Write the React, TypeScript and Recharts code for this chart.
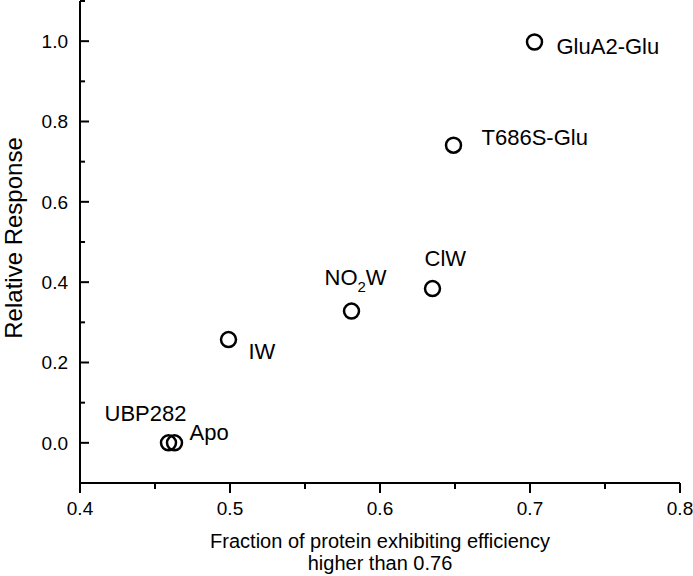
import { Scatter, ScatterChart, XAxis, YAxis } from "recharts";

const names = ["GluA2-Glu", "T686S-Glu", "ClW", "NO2W", "IW", "UBP282", "Apo"];
const fraction = [0.703, 0.649, 0.635, 0.581, 0.499, 0.459, 0.463];
const response = [0.998, 0.741, 0.384, 0.328, 0.257, 0.0, 0.0];

const xTicks = [0.4, 0.45, 0.5, 0.55, 0.6, 0.65, 0.7, 0.75, 0.8];
const yTicks = [-0.1, 0, 0.1, 0.2, 0.3, 0.4, 0.5, 0.6, 0.7, 0.8, 0.9, 1.0, 1.1];

const data = names.map((name, i) => ({
  name,
  x: fraction[i],
  y: response[i],
}));

// where each label sits relative to its circle (text start, vertical centre)
const labelPos: Record<string, { dx: number; dy: number }> = {
  "GluA2-Glu": { dx: 22, dy: 4 },
  "T686S-Glu": { dx: 28, dy: -8 },
  ClW: { dx: -8, dy: -30 },
  NO2W: { dx: -27, dy: -34 },
  IW: { dx: 20, dy: 12 },
  UBP282: { dx: -64, dy: -30 },
  Apo: { dx: 15, dy: -11 },
};

const font = '"Liberation Sans", Arial, sans-serif';

function YTick(props: any) {
  const { x, y, payload } = props;
  const v = payload.value;
  const major = Math.round(v * 10) % 2 === 0;
  return (
    <g>
      <line x1={x} x2={x + (major ? 9 : 5)} y1={y} y2={y} stroke="#000" strokeWidth={2} />
      {major && (
        <text x={x - 12} y={y} dy="0.355em" textAnchor="end" fontSize={19} fontFamily={font} fill="#000">
          {v.toFixed(1)}
        </text>
      )}
    </g>
  );
}

function XTick(props: any) {
  const { x, y, payload } = props;
  const v = payload.value;
  const major = Math.round(v * 20) % 2 === 0;
  return (
    <g>
      <line x1={x} x2={x} y1={y} y2={y + (major ? 10 : 6)} stroke="#000" strokeWidth={2} />
      {major && (
        <text x={x} y={y + 32} textAnchor="middle" fontSize={19} fontFamily={font} fill="#000">
          {v.toFixed(1)}
        </text>
      )}
    </g>
  );
}

function XTitle(props: any) {
  const { x, y, width } = props.viewBox;
  const cx = x + width / 2;
  return (
    <text textAnchor="middle" fontSize={20} fontFamily={font} fill="#000">
      <tspan x={cx} y={y + 65}>Fraction of protein exhibiting efficiency</tspan>
      <tspan x={cx} y={y + 87}>higher than 0.76</tspan>
    </text>
  );
}

function YTitle(props: any) {
  const { x, y, height } = props.viewBox;
  const tx = x + 22;
  const ty = y + height / 2 - 4;
  return (
    <text
      x={tx}
      y={ty}
      transform={`rotate(-90 ${tx} ${ty})`}
      textAnchor="middle"
      fontSize={24}
      fontFamily={font}
      fill="#000"
    >
      Relative Response
    </text>
  );
}

function Point(props: any) {
  const { cx, cy, payload } = props;
  const pos = labelPos[payload.name];
  const tx = cx + pos.dx;
  const ty = cy + pos.dy;
  return (
    <g>
      <circle cx={cx} cy={cy} r={7.5} fill="none" stroke="#000" strokeWidth={2.5} />
      {payload.name === "NO2W" ? (
        <text x={tx} y={ty} dy="0.355em" fontSize={22} fontFamily={font} fill="#000">
          NO
          <tspan fontSize={15} dy={7}>2</tspan>
          <tspan dy={-7}>W</tspan>
        </text>
      ) : (
        <text x={tx} y={ty} dy="0.355em" fontSize={22} fontFamily={font} fill="#000">
          {payload.name}
        </text>
      )}
    </g>
  );
}

export default function App() {
  return (
    <div style={{ position: "absolute", left: 0, top: 0, background: "#fff" }}>
      <ScatterChart width={693} height={576} margin={{ top: 1, right: 13, bottom: 0, left: 0 }}>
        <XAxis
          type="number"
          dataKey="x"
          domain={[0.4, 0.8]}
          ticks={xTicks}
          interval={0}
          height={93}
          tickSize={0}
          tickMargin={0}
          tickLine={false}
          tick={<XTick />}
          axisLine={{ stroke: "#000", strokeWidth: 2 }}
          allowDataOverflow
          label={{ content: <XTitle /> }}
        />
        <YAxis
          type="number"
          dataKey="y"
          domain={[-0.1, 1.1]}
          ticks={yTicks}
          interval={0}
          width={80}
          tickSize={0}
          tickMargin={0}
          tickLine={false}
          tick={<YTick />}
          axisLine={{ stroke: "#000", strokeWidth: 2 }}
          allowDataOverflow
          label={{ content: <YTitle /> }}
        />
        <Scatter data={data} shape={<Point />} isAnimationActive={false} />
      </ScatterChart>
    </div>
  );
}
